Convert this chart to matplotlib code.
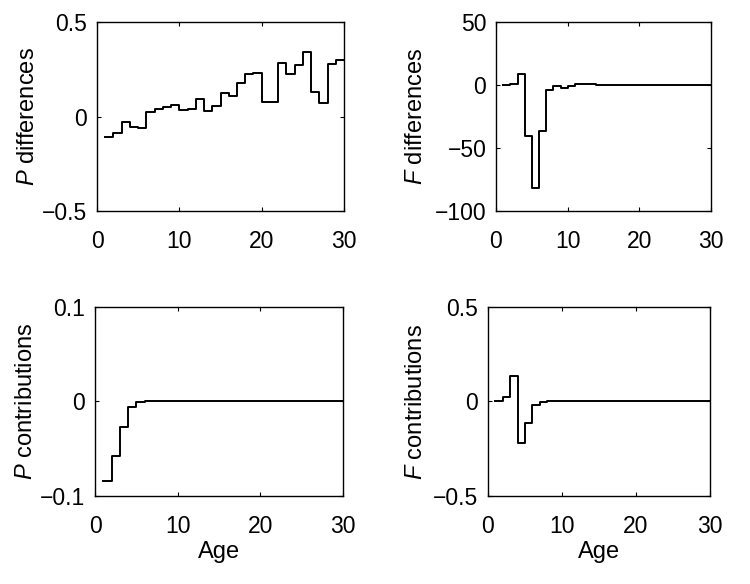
import matplotlib
matplotlib.use("Agg")
import matplotlib.pyplot as plt

plt.rcParams['font.family'] = ['Liberation Sans', 'DejaVu Sans']
plt.rcParams['mathtext.fontset'] = 'custom'
plt.rcParams['mathtext.rm'] = 'Liberation Sans'
plt.rcParams['mathtext.it'] = 'Liberation Sans:italic'

age = list(range(1, 31))

p_diff = [-0.106, -0.088, -0.028, -0.058, -0.063, 0.023, 0.039, 0.051, 0.063, 0.033,
          0.040, 0.093, 0.028, 0.055, 0.122, 0.111, 0.178, 0.224, 0.232, 0.076,
          0.079, 0.283, 0.225, 0.271, 0.341, 0.127, 0.069, 0.278, 0.299, 0.299]

f_diff = [0.0, 0.5, 8.5, -40.5, -82.0, -36.5, -3.7, -1.0, -2.1, -1.0,
          0.5, 1.0, 0.5, 0, 0, 0, 0, 0, 0, 0,
          0, 0, 0, 0, 0, 0, 0, 0, 0, 0]

p_contrib = [-0.084, -0.058, -0.027, -0.006, -0.001, 0, 0, 0, 0, 0,
             0, 0, 0, 0, 0, 0, 0, 0, 0, 0,
             0, 0, 0, 0, 0, 0, 0, 0, 0, 0]

f_contrib = [0.0, 0.025, 0.133, -0.217, -0.115, -0.018, -0.002, 0, 0, 0,
             0, 0, 0, 0, 0, 0, 0, 0, 0, 0,
             0, 0, 0, 0, 0, 0, 0, 0, 0, 0]

fig = plt.figure(figsize=(7.5, 5.84), dpi=100)

# box in pixels (left, top, width, height), data, ylim, yticks, labels, ylabel, ylabel x, xlabel?
panels = [
    ([97, 22, 247, 189], p_diff, (-0.5, 0.5), [-0.5, 0, 0.5], ['\u22120.5', '0', '0.5'],
     r'$\mathit{P}$ differences', -0.235, False),
    ([496, 22, 215, 189], f_diff, (-100, 50), [-100, -50, 0, 50], ['\u2212100', '\u221250', '0', '50'],
     r'$\mathit{F}$ differences', -0.32, False),
    ([95, 307, 248, 189], p_contrib, (-0.1, 0.1), [-0.1, 0, 0.1], ['\u22120.1', '0', '0.1'],
     r'$\mathit{P}$ contributions', -0.235, True),
    ([488, 307, 222, 189], f_contrib, (-0.5, 0.5), [-0.5, 0, 0.5], ['\u22120.5', '0', '0.5'],
     r'$\mathit{F}$ contributions', -0.275, True),
]

W, H = 750, 584
for box, vals, ylim, yt, ytl, ylab, labx, show_age in panels:
    x0, y0, w, h = box
    ax = fig.add_axes([x0 / W, 1 - (y0 + h) / H, w / W, h / H])
    ax.step(age, vals, where='post', color='black', linewidth=1.4)
    ax.set_xlim(0, 30)
    ax.set_ylim(*ylim)
    ax.set_xticks([0, 10, 20, 30])
    ax.set_yticks(yt)
    ax.set_yticklabels(ytl)
    ax.tick_params(direction='in', top=True, right=True, length=3, width=0.8,
                   labelsize=16.5)
    ax.tick_params(axis='x', pad=14)
    ax.tick_params(axis='y', pad=7)
    for s in ax.spines.values():
        s.set_linewidth(1.0)
    ax.set_ylabel(ylab, fontsize=17)
    ax.yaxis.set_label_coords(labx, 0.5)
    if show_age:
        ax.set_xlabel('Age', fontsize=17, labelpad=2)

fig.savefig('out.png', dpi=100)
